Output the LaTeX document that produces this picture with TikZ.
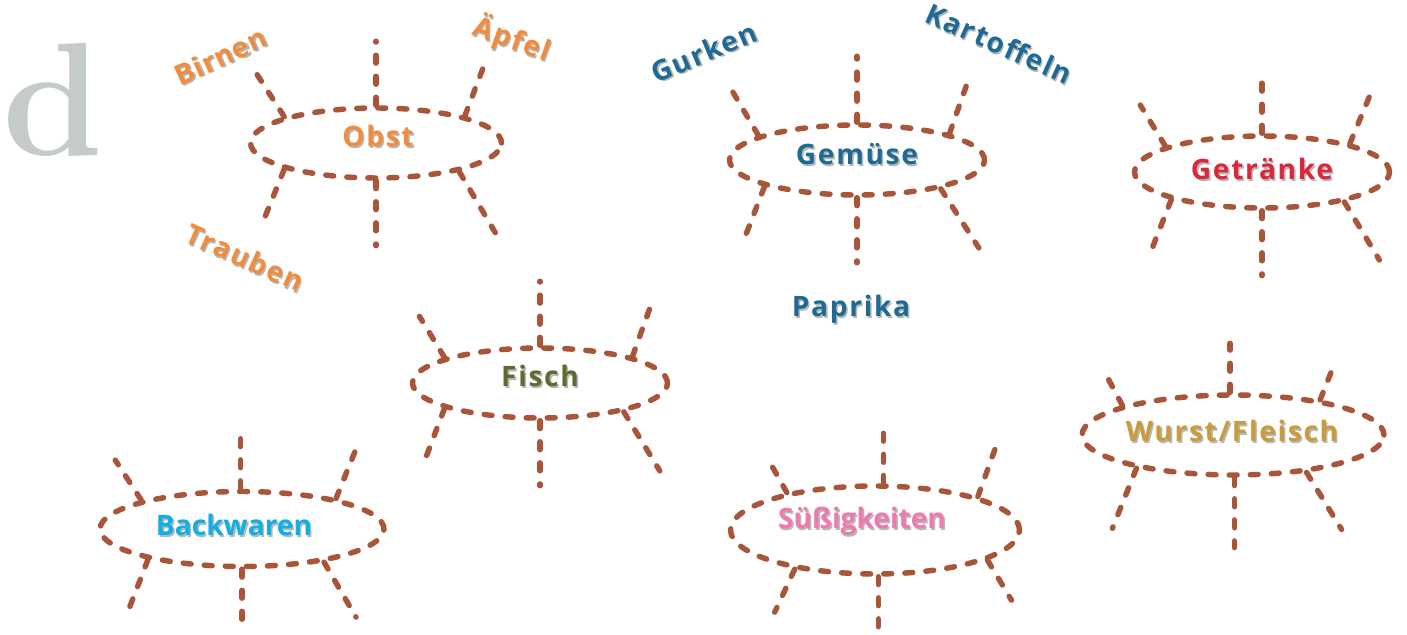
\documentclass[tikz,border=0pt]{standalone}
\usepackage{fontspec}
\newfontfamily\wordfont{Open Sans}
\usepackage{tikz}
\usetikzlibrary{shapes.geometric}

\definecolor{legbrown}{HTML}{A8553A}
\definecolor{dgray}{HTML}{C5CBCA}
\definecolor{wordshadow}{HTML}{B4B8B8}
\definecolor{fruit}{HTML}{F28C3C}
\definecolor{veg}{HTML}{1F6A94}
\definecolor{drink}{HTML}{D9283A}
\definecolor{fish}{HTML}{5E6B2E}
\definecolor{bread}{HTML}{12AEE6}
\definecolor{sweet}{HTML}{EE7AAE}
\definecolor{meat}{HTML}{C99B3B}

\newcommand{\shadowed}[1]{\leavevmode\rlap{\kern0.9pt\raisebox{-0.9pt}{\color{wordshadow}#1}}#1}

\tikzset{
  spider/.style={ellipse, draw=legbrown, line width=3.1pt, dash pattern=on 4.5pt off 7.5pt, line cap=round, inner sep=0pt},
  leg/.style={draw=legbrown, line width=3.1pt, dash pattern=on 4.5pt off 7.5pt, line cap=round},
  word/.style={font=\wordfont\bfseries\fontsize{16}{18}\selectfont\addfontfeature{LetterSpace=#1}, inner sep=0pt},
  word/.default=6,
}

\begin{document}
\begin{tikzpicture}[x=0.02cm, y=0.02cm]
\useasboundingbox (0,0) rectangle (1407,635);
\node[anchor=south west, inner sep=0pt, text=dgray, font=\fontsize{92}{92}\selectfont\bfseries] (letter) at (2,478) {d};

% Obst
\node[spider, minimum width=5.02cm, minimum height=1.4cm] (obst) at (376,492) {};
\foreach \a/\dx/\dy in {90/0/64, 164/-27/42, 17/19/50, 270/0/-65, 196/-23/-57, 341/36/-61}
  \draw[leg] (obst.\a) -- ++(\dx,\dy);
\node[word, text=fruit] (obsttext) at (378,498) {\shadowed{Obst}};
\node[word=3, text=fruit, rotate=25] (birnen) at (221,578) {\shadowed{Birnen}};
\node[word, text=fruit, rotate=-20] (aepfel) at (512,595) {\shadowed{Äpfel}};
\node[word, text=fruit, rotate=-24] (trauben) at (245,377) {\shadowed{Trauben}};

% Gemuese
\node[spider, minimum width=5.1cm, minimum height=1.4cm] (gemuese) at (857,475) {};
\foreach \a/\dx/\dy in {90/0/66, 166/-27/46, 16/19/54, 270/0/-65, 196/-22/-57, 341/38/-59}
  \draw[leg] (gemuese.\a) -- ++(\dx,\dy);
\node[word, text=veg] (gemuesetext) at (857,480) {\shadowed{Gemüse}};
\node[word, text=veg, rotate=23] (gurken) at (704,582) {\shadowed{Gurken}};
\node[word, text=veg, rotate=-24] (kartoffeln) at (999,591) {\shadowed{Kartoffeln}};
\node[word, text=veg] (paprika) at (851,325) {\shadowed{Paprika}};

% Getraenke
\node[spider, minimum width=5.1cm, minimum height=1.44cm] (getraenke) at (1262,463) {};
\foreach \a/\dx/\dy in {90/0/63, 165/-25/41, 18/20/48, 270/0/-65, 197/-22/-56, 340/35/-58}
  \draw[leg] (getraenke.\a) -- ++(\dx,\dy);
\node[word, text=drink] (getraenketext) at (1262,465) {\shadowed{Getränke}};

% Fisch
\node[spider, minimum width=5.1cm, minimum height=1.4cm] (fisch) at (540,252) {};
\foreach \a/\dx/\dy in {90/0/64, 165/-25/41, 16/19/53, 270/0/-65, 195/-22/-58, 341/36/-59}
  \draw[leg] (fisch.\a) -- ++(\dx,\dy);
\node[word, text=fish] (fischtext) at (540,258) {\shadowed{Fisch}};

% Backwaren
\node[spider, minimum width=5.68cm, minimum height=1.5cm] (backwaren) at (242,106) {};
\foreach \a/\dx/\dy in {92/0/60, 164/-26/40, 18/19/47, 270/0/-62, 198/-20/-52, 338/32/-55}
  \draw[leg] (backwaren.\a) -- ++(\dx,\dy);
\node[word=0, text=bread] (backwarentext) at (234,109) {\shadowed{Backwaren}};

% Suessigkeiten
\node[spider, minimum width=5.78cm, minimum height=1.76cm] (suess) at (875,105) {};
\foreach \a/\dx/\dy in {80/0/56, 157/-18/32, 18/17/47, 274/0/-54, 206/-20/-43, 345/24/-40}
  \draw[leg] (suess.\a) -- ++(\dx,\dy);
\node[word=0, text=sweet] (suesstext) at (862,113) {\shadowed{Süßigkeiten}};

% Wurst/Fleisch
\node[spider, minimum width=6.04cm, minimum height=1.6cm] (wurst) at (1233,200) {};
\foreach \a/\dx/\dy in {94/0/49, 165/-16/30, 22/12/30, 272/0/-70, 199/-24/-60, 333/35/-57}
  \draw[leg] (wurst.\a) -- ++(\dx,\dy);
\node[word, text=meat] (wursttext) at (1232,203) {\shadowed{Wurst/Fleisch}};
\end{tikzpicture}
\end{document}
